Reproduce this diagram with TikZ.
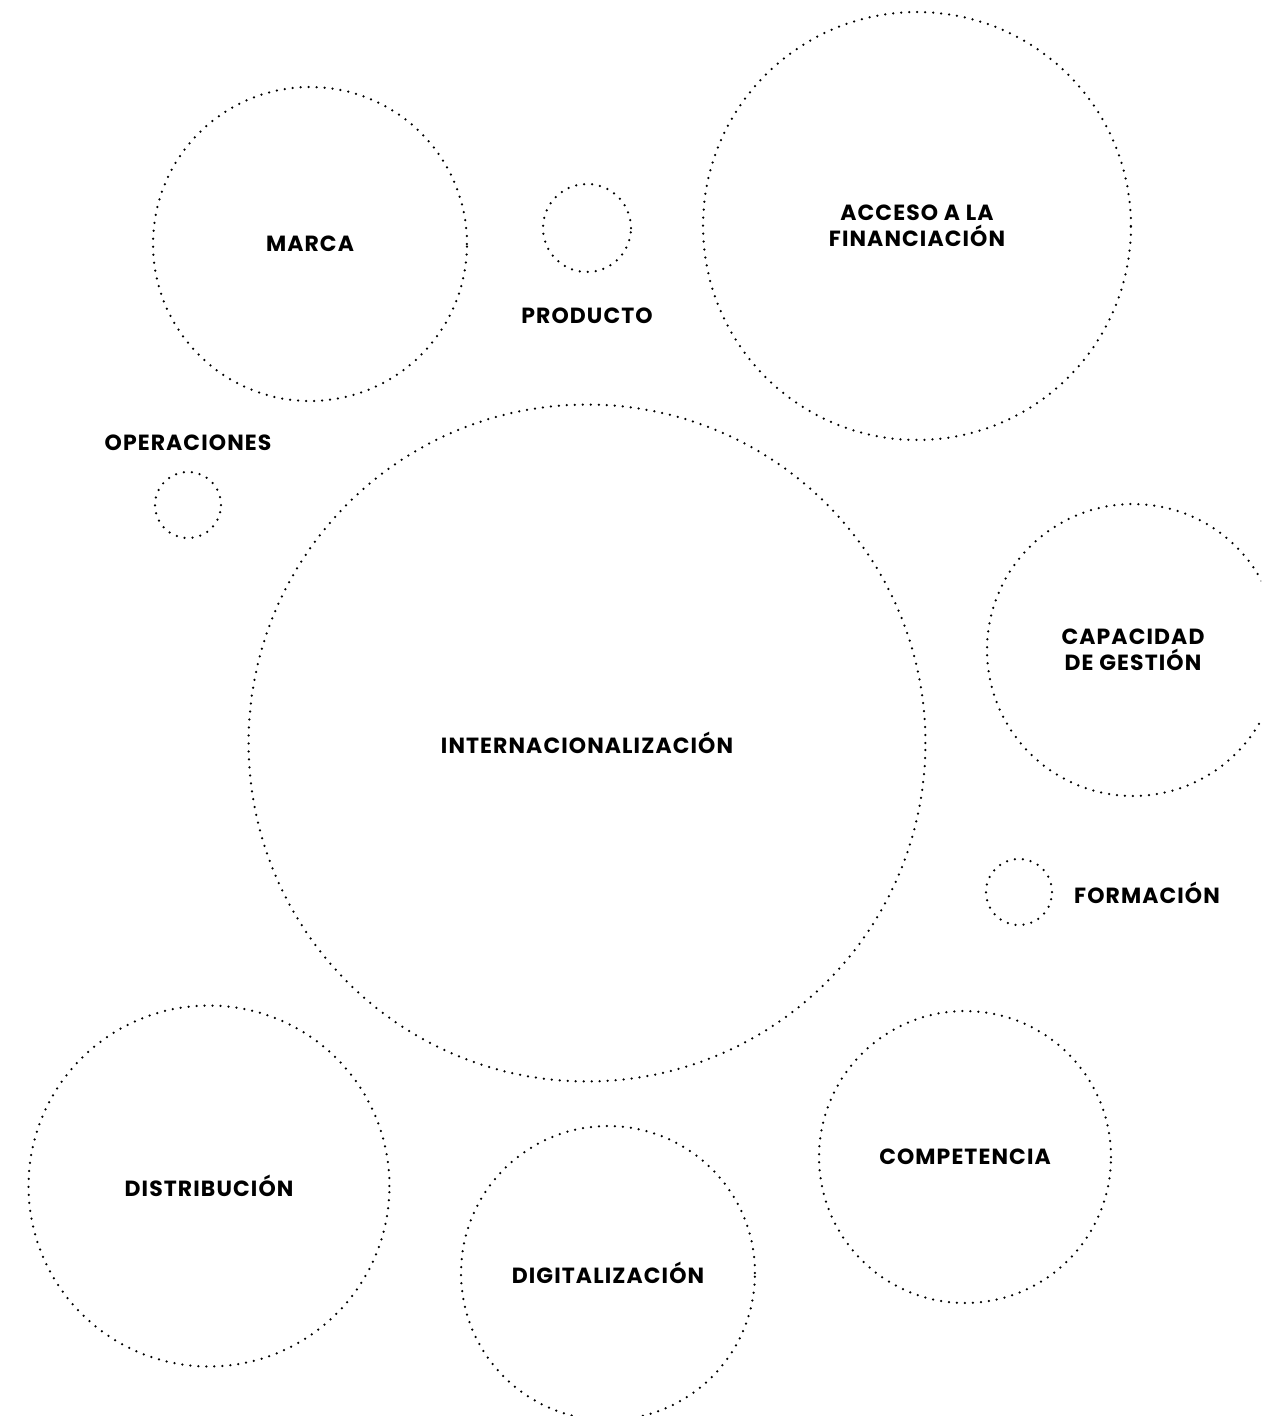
\documentclass[tikz,border=0pt]{standalone}
\usepackage{fontspec}
\newfontfamily\bubblefont[LetterSpace=5]{Poppins}
\usetikzlibrary{positioning}

\begin{document}
\begin{tikzpicture}[x=0.02cm,y=-0.02cm,
	ring/.style={circle,draw,line width=0.05cm,line cap=round,
		dash pattern=on 0pt off 0.16cm,inner sep=0pt,
		font=\bubblefont\bfseries\fontsize{12.5}{14.8}\selectfont,align=center},
	tag/.style={font=\bubblefont\bfseries\fontsize{12.5}{14.8}\selectfont,align=center,inner sep=0pt}]

	\useasboundingbox (0,0) rectangle (1261,1416);
	\clip (0,0) rectangle (1261,1416);

	% large bubbles
	\node[ring,minimum size=6.28cm] (marca) at (310,244) {MARCA};
	\node[ring,minimum size=8.56cm] (acceso) at (917,226) {ACCESO A LA\\FINANCIACIÓN};
	\node[ring,minimum size=13.54cm] (inter) at (587,743) {INTERNACIONALIZACIÓN};
	\node[ring,minimum size=5.84cm] (capacidad) at (1133,650) {CAPACIDAD\\DE GESTIÓN};
	\node[ring,minimum size=7.22cm] (distrib) at (209,1186) {DISTRIBUCIÓN};
	\node[ring,minimum size=5.88cm] (digital) at (608,1273) {DIGITALIZACIÓN};
	\node[ring,minimum size=5.84cm] (compet) at (965,1157) {COMPETENCIA};

	% small bubbles with outside labels
	\node[ring,minimum size=1.76cm] (producto) at (587,228) {};
	\node[ring,minimum size=1.32cm] (operac) at (188,505) {};
	\node[ring,minimum size=1.32cm] (formac) at (1019,892) {};

	\node[tag] (producto-t) at (587,316) {PRODUCTO};
	\node[tag] (operac-t) at (188,443) {OPERACIONES};
	\node[tag] (formac-t) at (1147,893) {FORMACIÓN};

\end{tikzpicture}
\end{document}
